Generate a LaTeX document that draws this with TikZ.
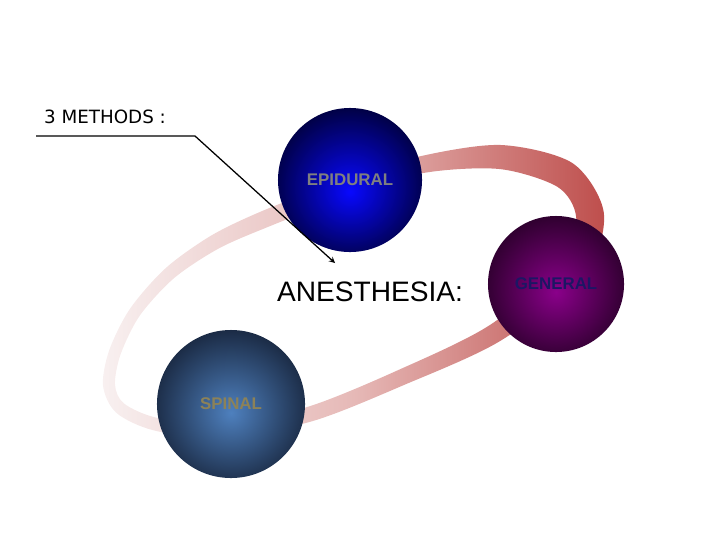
\documentclass[tikz,border=0pt]{standalone}
\usepackage{fontspec}
\setmainfont{Liberation Sans}
\newfontfamily\methodsfont{DejaVu Sans}
\usepackage{tikz}

\definecolor{ringL}{RGB}{248,240,240}
\definecolor{ringM}{RGB}{230,185,183}
\definecolor{ringR}{RGB}{190,78,76}
\definecolor{epiIn}{RGB}{8,8,255}
\definecolor{epiOut}{RGB}{0,0,62}
\definecolor{genIn}{RGB}{138,0,138}
\definecolor{genOut}{RGB}{42,0,42}
\definecolor{spiIn}{RGB}{78,128,190}
\definecolor{spiOut}{RGB}{24,38,62}
\definecolor{epiText}{RGB}{128,128,128}
\definecolor{genText}{RGB}{28,22,100}
\definecolor{spiText}{RGB}{140,130,88}

\pgfdeclareradialshading{epiShade}{\pgfpoint{0bp}{-4bp}}{color(0bp)=(epiIn); color(28bp)=(epiOut); color(50bp)=(epiOut)}
\pgfdeclareradialshading{genShade}{\pgfpoint{0bp}{-3bp}}{color(0bp)=(genIn); color(28bp)=(genOut); color(50bp)=(genOut)}
\pgfdeclareradialshading{spiShade}{\pgfpoint{0bp}{-3bp}}{color(0bp)=(spiIn); color(28bp)=(spiOut); color(50bp)=(spiOut)}

\tikzset{orb/.style={circle, inner sep=0pt, font=\bfseries\fontsize{12}{14}\selectfont}}

\begin{document}
\begin{tikzpicture}[>=stealth, x=0.025cm, y=-0.025cm]
\useasboundingbox (0,0) rectangle (720,540);

% the orbit
\path[even odd rule, left color=ringL, right color=ringR, middle color=ringM]
  plot[smooth cycle] coordinates {(103.0,385.5) (109.3,350.0) (130.1,308.6) (165.7,268.1)
    (211.3,235.5) (261.7,211.2) (337.2,182.0) (418.3,156.7) (500.8,145.0) (572.6,163.2)
    (603.9,213.5) (584.3,275.5) (500.1,341.0) (403.2,385.3) (312.2,421.2) (220.4,438.5)
    (153.5,430.3) (116.1,412.6)}
  plot[smooth cycle] coordinates {(115.0,384.5) (120.7,354.0) (139.9,315.4) (174.3,277.9)
    (218.7,248.5) (268.3,226.8) (342.8,198.0) (421.7,173.3) (499.2,169.0) (557.4,186.8)
    (576.1,216.5) (565.7,260.5) (489.9,325.0) (396.8,370.7) (307.8,406.8) (219.6,425.5)
    (156.5,417.7) (123.9,403.4)};

\node[orb, minimum size=3.6cm, shading=epiShade, text=epiText] (E) at (350,180) {EPIDURAL};
\node[orb, minimum size=3.4cm, shading=genShade, text=genText] (G) at (556,284) {GENERAL};
\node[orb, minimum size=3.7cm, shading=spiShade, text=spiText] (S) at (231,404) {SPINAL};

\node[font=\fontsize{20}{24}\selectfont] (A) at (370,292) {ANESTHESIA:};
\node[font=\methodsfont\fontsize{13}{15}\selectfont] (M) at (105,117) {3 METHODS :};

\coordinate (L) at (36,136);
\coordinate (K) at (195,136);
\coordinate (T) at (335,263);
\draw[->, line width=0.9pt] (L) -- (K) -- (T);
\end{tikzpicture}
\end{document}
